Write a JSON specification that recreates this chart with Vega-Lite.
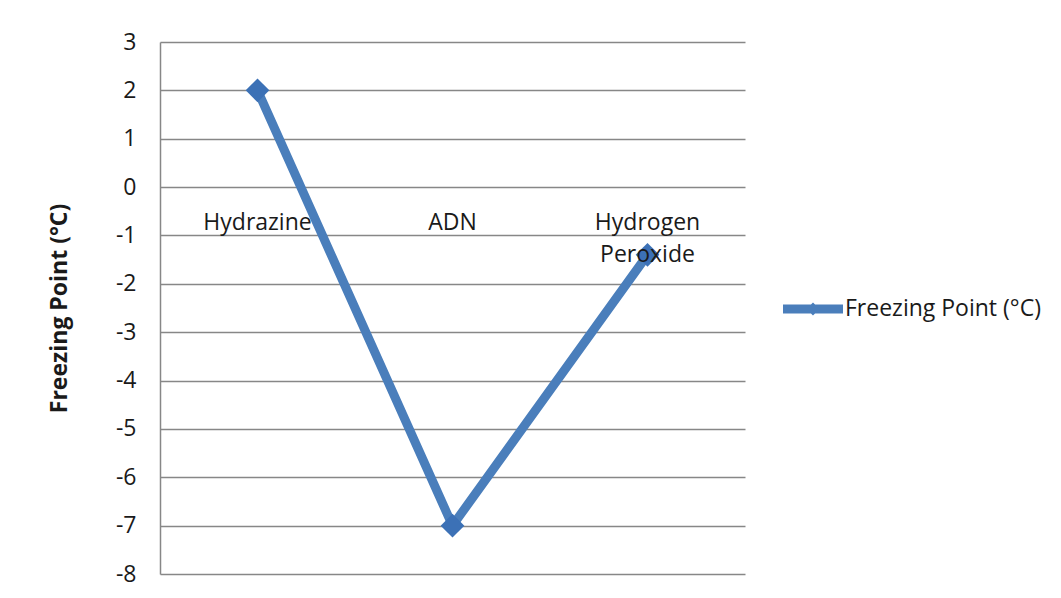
{
  "$schema": "https://vega.github.io/schema/vega-lite/v6.json",
  "width": 585,
  "height": 532,
  "autosize": {"type": "none"},
  "padding": {"left": 160, "top": 42, "right": 316, "bottom": 24},
  "background": "white",
  "config": {
    "view": {"stroke": null},
    "font": "Open Sans",
    "axis": {"labelFont": "Open Sans", "titleFont": "Open Sans"}
  },
  "data": {
    "values": [
      {"substance": "Hydrazine", "fp": 2, "series": "Freezing Point (°C)"},
      {"substance": "ADN", "fp": -7, "series": "Freezing Point (°C)"},
      {"substance": "Hydrogen Peroxide", "fp": -1.4, "series": "Freezing Point (°C)"}
    ]
  },
  "encoding": {
    "x": {
      "field": "substance",
      "type": "nominal",
      "sort": null,
      "scale": {"type": "point", "padding": 0.5},
      "axis": null
    },
    "y": {
      "field": "fp",
      "type": "quantitative",
      "scale": {"domain": [-8, 3], "nice": false, "zero": false},
      "axis": {
        "title": "Freezing Point (°C)",
        "values": [-8, -7, -6, -5, -4, -3, -2, -1, 0, 1, 2, 3],
        "labelExpr": "toString(datum.value)",
        "ticks": false,
        "domain": true,
        "domainColor": "#878787",
        "domainWidth": 1.5,
        "grid": true,
        "gridColor": "#878787",
        "gridWidth": 1.5,
        "gridOpacity": 1,
        "labelFontSize": 23,
        "labelColor": "#1a1a1a",
        "labelPadding": 24,
        "titleFontSize": 23,
        "titleFontWeight": "bold",
        "titleColor": "#1a1a1a",
        "titlePadding": 44
      }
    }
  },
  "layer": [
    {
      "mark": {"type": "line", "strokeWidth": 9, "color": "#4A7EBB"},
      "encoding": {
        "color": {
          "field": "series",
          "type": "nominal",
          "scale": {"range": ["#4A7EBB"]},
          "legend": {
            "title": null,
            "orient": "none",
            "legendX": 623,
            "legendY": 237,
            "symbolType": "M-1,-0.15 L1,-0.15 L1,0.15 L-1,0.15 Z M0,-0.22 L0.22,0 L0,0.22 L-0.22,0 Z",
            "symbolSize": 3600,
            "labelFontSize": 23,
            "labelColor": "#1a1a1a",
            "labelOffset": 2,
            "labelLimit": 0,
            "labelFont": "Open Sans",
            "encode": {
              "symbols": {
                "update": {
                  "fill": {"value": "#4A7EBB"},
                  "stroke": {"value": "transparent"},
                  "strokeWidth": {"value": 0},
                  "opacity": {"value": 1}
                }
              }
            }
          }
        }
      }
    },
    {
      "mark": {"type": "point", "shape": "diamond", "filled": true, "size": 560, "color": "#3C71B6", "opacity": 1}
    },
    {
      "mark": {
        "type": "text",
        "fontSize": 23,
        "color": "#1a1a1a",
        "baseline": "alphabetic",
        "dy": 43,
        "lineBreak": " ",
        "lineHeight": 32,
        "font": "Open Sans"
      },
      "encoding": {
        "y": {"datum": 0},
        "text": {"field": "substance"}
      }
    }
  ]
}
